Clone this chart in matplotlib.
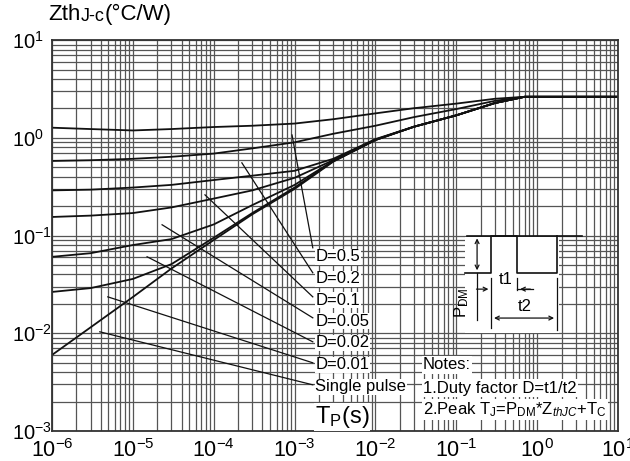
import matplotlib.pyplot as plt
import matplotlib.patches as mpatches
import matplotlib.transforms as mtransforms
import numpy as np

plt.rcParams['font.family'] = ['Liberation Sans', 'DejaVu Sans']
plt.rcParams['mathtext.fontset'] = 'custom'
plt.rcParams['mathtext.rm'] = 'Liberation Sans'
plt.rcParams['mathtext.it'] = 'Liberation Sans:italic'
plt.rcParams['axes.unicode_minus'] = False

# pulse width (s)
tp = [1e-6, 3e-6, 1e-5, 3e-5, 1e-4, 3e-4, 1e-3, 3e-3, 1e-2, 3e-2, 1e-1, 3e-1, 0.7, 10]

# transient thermal impedance (C/W) per duty factor
zth_d05 = [1.27, 1.23, 1.19, 1.23, 1.29, 1.33, 1.40, 1.55, 1.78, 2.01, 2.24, 2.51, 2.63, 2.63]
zth_d02 = [0.58, 0.59, 0.61, 0.64, 0.69, 0.78, 0.90, 1.10, 1.33, 1.63, 1.97, 2.39, 2.63, 2.63]
zth_d01 = [0.29, 0.295, 0.31, 0.33, 0.37, 0.41, 0.46, 0.61, 0.97, 1.30, 1.70, 2.27, 2.63, 2.63]
zth_d005 = [0.155, 0.16, 0.17, 0.194, 0.239, 0.29, 0.39, 0.59, 0.96, 1.30, 1.70, 2.27, 2.63, 2.63]
zth_d002 = [0.0606, 0.066, 0.080, 0.092, 0.13, 0.205, 0.33, 0.58, 0.95, 1.30, 1.70, 2.27, 2.63, 2.63]
zth_d001 = [0.0265, 0.029, 0.036, 0.051, 0.095, 0.17, 0.31, 0.575, 0.95, 1.30, 1.70, 2.27, 2.63, 2.63]
zth_single = [0.006, 0.0115, 0.0235, 0.046, 0.09, 0.165, 0.30, 0.57, 0.95, 1.30, 1.70, 2.27, 2.63, 2.63]

# curve labels and their leader lines
labels = ["D=0.5", "D=0.2", "D=0.1", "D=0.05", "D=0.02", "D=0.01", "Single pulse"]
label_y = [0.0606, 0.0361, 0.0219, 0.01335, 0.00797, 0.00476, 0.00284]
lead_x0 = [9.3e-4, 2.23e-4, 7.8e-5, 2.3e-5, 1.5e-5, 4.9e-6, 3.9e-6]
lead_y0 = [1.07, 0.555, 0.261, 0.129, 0.0607, 0.0236, 0.01036]
lead_y1 = [0.075, 0.0416, 0.0236, 0.0144, 0.00818, 0.00499, 0.00297]
lead_x1 = 1.68e-3
label_x = 1.8e-3

fig = plt.figure(figsize=(6.3, 4.61), dpi=100)
ax = fig.add_axes([0.0825, 0.065, 0.8985, 0.848])
ax.set_xscale("log")
ax.set_yscale("log")
ax.set_xlim(1e-6, 10)
ax.set_ylim(1e-3, 10)
ax.grid(which="both", color="#555555", lw=0.9)
ax.set_axisbelow(True)
ax.tick_params(which="both", length=0)
ax.tick_params(axis="x", pad=6, labelsize=15.5)
ax.tick_params(axis="y", pad=29, labelsize=14.5)
for tick in ax.yaxis.get_major_ticks():
    tick.label1.set_horizontalalignment("left")
    if np.isclose(tick.get_loc(), 1e-3):
        # nudge the bottom label up a little, as in the original
        off = mtransforms.ScaledTranslation(0, 4 / 72, fig.dpi_scale_trans)
        tick.label1.set_transform(tick.label1.get_transform() + off)
for s in ax.spines.values():
    s.set_color("#333333")
    s.set_linewidth(1.3)

for z in [zth_d05, zth_d02, zth_d01, zth_d005, zth_d002, zth_d001, zth_single]:
    ax.plot(tp, z, color="#111111", lw=1.3)

for i in range(len(labels)):
    ax.plot([lead_x0[i], lead_x1], [lead_y0[i], lead_y1[i]], color="#111111", lw=0.9)
    ax.text(label_x, label_y[i], labels[i], fontsize=12, va="center", ha="left",
            bbox=dict(facecolor="white", edgecolor="none", pad=0.5))

# notes
ax.text(0.655, 0.169, "Notes:", transform=ax.transAxes, fontsize=12, va="center",
        bbox=dict(facecolor="white", edgecolor="none", pad=0.8))
ax.text(0.655, 0.110, "1.Duty factor D=t1/t2", transform=ax.transAxes, fontsize=12, va="center",
        bbox=dict(facecolor="white", edgecolor="none", pad=0.8))
ax.text(0.655, 0.054, r"2.Peak T$_\mathregular{J}$=P$_\mathregular{DM}$*Z$_{\mathit{thJC}}$+T$_\mathregular{C}$",
        transform=ax.transAxes, fontsize=12, va="center",
        bbox=dict(facecolor="white", edgecolor="none", pad=0.8))

# x label
ax.text(0.465, 0.036, r"T$_\mathregular{P}$(s)", transform=ax.transAxes, fontsize=17, va="center",
        bbox=dict(facecolor="white", edgecolor="none", pad=0.5))

# y label on top
t1 = fig.text(0.076, 0.946, "Zth", fontsize=16, va="bottom", ha="left")
t2 = ax.annotate("J-c", xycoords=t1, xy=(1, 0), fontsize=13, va="bottom", annotation_clip=False)
ax.annotate("(\u00b0C/W)", xycoords=t2, xy=(1, 0), fontsize=16, va="bottom", annotation_clip=False)

# pulse diagram
tr = ax.transAxes
ax.add_patch(mpatches.Rectangle((0.730, 0.252), 0.166, 0.245, transform=tr,
                                facecolor="white", edgecolor="none", zorder=2))
k = dict(transform=tr, color="#111111", lw=1.2, zorder=3)
ax.plot([0.733, 0.936], [0.5, 0.5], **k)
ax.plot([0.730, 0.776, 0.776, 0.822, 0.822, 0.892, 0.892],
        [0.404, 0.404, 0.5, 0.5, 0.404, 0.404, 0.5], **k)
thin = dict(transform=tr, color="#111111", lw=0.9, zorder=3)
ax.plot([0.751, 0.751], [0.404, 0.284], **thin)
ax.plot([0.776, 0.776], [0.391, 0.263], **thin)
ax.plot([0.822, 0.822], [0.391, 0.361], **thin)
ax.plot([0.892, 0.892], [0.391, 0.258], **thin)
ax.plot([0.822, 0.850], [0.363, 0.363], **thin)
arr = dict(arrowstyle="->", color="#111111", lw=0.9, mutation_scale=7)
ax.annotate("", xy=(0.751, 0.5), xytext=(0.751, 0.404), xycoords=tr,
            arrowprops=dict(arrowstyle="<->", color="#111111", lw=0.9, mutation_scale=7), zorder=3)
ax.annotate("", xy=(0.776, 0.363), xytext=(0.745, 0.363), xycoords=tr, arrowprops=arr, zorder=3)
ax.annotate("", xy=(0.822, 0.363), xytext=(0.850, 0.363), xycoords=tr, arrowprops=arr, zorder=3)
ax.annotate("", xy=(0.776, 0.289), xytext=(0.892, 0.289), xycoords=tr,
            arrowprops=dict(arrowstyle="<->", color="#111111", lw=0.9, mutation_scale=7), zorder=3)
ax.text(0.802, 0.388, "t1", transform=tr, fontsize=12, ha="center", va="center", zorder=4)
ax.text(0.836, 0.318, "t2", transform=tr, fontsize=12, ha="center", va="center", zorder=4)
ax.text(0.724, 0.327, r"P$_\mathregular{DM}$", transform=tr, fontsize=12, ha="center", va="center",
        rotation=90, zorder=4)

fig.savefig("out.png", dpi=100)
